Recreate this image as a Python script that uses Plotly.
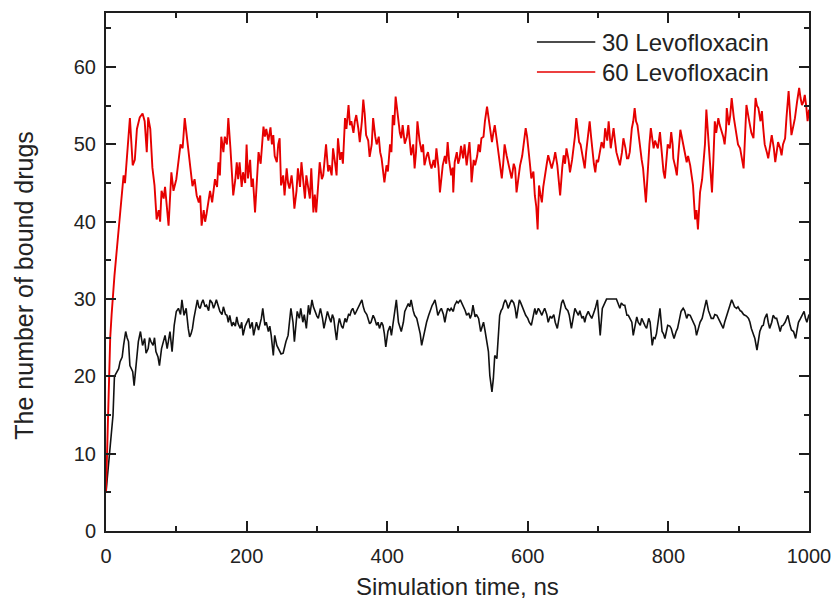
import plotly.graph_objects as go

# Number of bound Levofloxacin molecules over the MD trajectory (ns)
low_time = [0, 1, 2, 4, 6, 8, 10, 12, 15, 18, 20, 23, 25, 28, 30, 32, 34, 36, 38, 40, 43, 46, 49, 52, 55, 57, 60, 62, 64, 67, 69, 71, 74, 76, 79, 82, 84, 87, 89, 91, 94, 97,
            100, 103, 106, 108, 111, 114, 117, 119, 121, 123, 125, 127, 130, 132, 134, 136, 138, 141, 143, 146, 148, 151, 153, 155, 157, 160, 162, 165, 167, 170, 172, 174, 176, 179, 181, 184, 186, 188, 191, 193, 195, 198,
            200, 203, 205, 208, 210, 212, 214, 217, 219, 221, 223, 226, 228, 231, 233, 235, 238, 240, 243, 245, 247, 249, 252, 254, 256, 259, 261, 263, 266, 268, 270, 272, 275, 277, 280, 282, 285, 288, 290, 293, 295, 297,
            300, 302, 305, 308, 310, 313, 315, 318, 320, 322, 324, 326, 328, 330, 332, 335, 337, 340, 342, 345, 347, 349, 351, 354, 356, 359, 361, 364, 366, 368, 371, 373, 375, 377, 380, 382, 385, 387, 389, 392, 394, 396, 398,
            401, 404, 406, 408, 410, 413, 416, 418, 420, 423, 425, 428, 430, 432, 434, 437, 439, 442, 444, 447, 449, 451, 453, 456, 459, 461, 464, 466, 468, 470, 472, 475, 477, 480, 482, 484, 486, 489, 491, 494, 496, 499,
            501, 504, 506, 508, 511, 513, 516, 518, 520, 522, 525, 527, 530, 533, 535, 537, 539, 541, 544, 546, 548, 549, 551, 553, 556, 558, 560, 562, 564, 566, 568, 570, 572, 575, 577, 580, 582, 584, 586, 588, 590, 593, 595, 597,
            600, 602, 605, 607, 610, 612, 615, 617, 620, 622, 624, 627, 629, 632, 634, 637, 639, 642, 644, 646, 648, 650, 652, 654, 657, 659, 662, 664, 667, 669, 672, 674, 677, 679, 681, 683, 686, 688, 691, 693, 696, 699,
            701, 703, 706, 709, 712, 726, 728, 731, 733, 736, 738, 741, 743, 745, 748, 750, 753, 755, 757, 760, 762, 764, 767, 769, 772, 774, 777, 779, 781, 783, 785, 788, 791, 793, 795, 797, 799,
            802, 804, 806, 808, 811, 813, 816, 818, 821, 823, 826, 828, 831, 833, 836, 838, 840, 843, 845, 848, 850, 852, 854, 857, 859, 861, 864, 866, 869, 871, 873, 876, 878, 880, 883, 886, 888, 890, 892, 894, 897, 899,
            902, 904, 907, 909, 911, 914, 916, 918, 921, 923, 926, 928, 930, 933, 935, 937, 940, 942, 944, 947, 949, 952, 954, 957, 959, 961, 963, 966, 968, 970, 973, 975, 978, 981, 983, 985, 988, 990, 993, 995, 997, 1000]
low_bound = [5, 6, 8, 10, 12, 13, 15, 20, 20.6, 21, 21.9, 22.5, 24, 25.8, 25, 24.5, 21.4, 21, 20.6, 18.8, 21.9, 24.5, 25.8, 24, 24.9, 23, 23.6, 25, 24.5, 24, 25, 23.2, 22.5, 21.4, 23.6, 24.5, 25.3, 23.6, 24.5, 25.8, 23.2, 26.6,
             28.4, 28.8, 28, 29.9, 27.9, 28.8, 26.2, 25.1, 25.5, 26.2, 27.5, 28.4, 29.9, 29, 28.8, 29.5, 29.9, 29, 29.2, 28.5, 29.9, 29.5, 28.8, 29.3, 29.9, 29, 28.4, 28, 29, 28, 27.9, 27, 27.9, 26.5, 27, 26.5, 27.7, 26.8, 26.2, 27, 25.3, 26.5,
             27, 27.5, 26.2, 27, 25.3, 26, 27, 26, 26.6, 27.5, 28.8, 26.6, 27, 25.8, 26.5, 25.3, 22.7, 25.3, 24, 23.6, 23.2, 22.9, 23, 24, 24.5, 25.3, 27, 28.8, 27, 24.5, 26.5, 28.4, 27.5, 28.8, 27, 28, 26.2, 29.2, 28, 29.9, 29, 28.4,
             27.8, 27.5, 28.8, 27.5, 26.2, 27.5, 28.4, 27.5, 27, 28, 27.5, 26, 24.7, 26.5, 27.5, 26.5, 26.2, 27.5, 27, 28, 27.9, 28.5, 28.8, 28, 28.4, 28.8, 29.4, 29.9, 29, 28.4, 28, 27.5, 26.8, 27, 27.9, 27.5, 26.6, 27, 26.2, 27, 26.6, 25.5, 23.8,
             25.8, 26.5, 25.3, 26.5, 27.5, 29.9, 27, 26.5, 25.8, 27, 28.4, 29, 29.4, 29, 29.9, 28.5, 27.9, 27.5, 26.6, 25.5, 24, 25, 25.8, 27, 27.9, 28.5, 29.2, 29.5, 29.9, 29, 27.9, 28.5, 28.8, 28, 27, 28, 28.8, 28.5, 28.8, 28.4, 29.2, 29.7,
             29.5, 29.9, 29.5, 29.2, 28.5, 27.9, 28.2, 27.5, 28, 29.2, 27.7, 28, 27.5, 25.8, 26.5, 27, 26, 24.9, 23.2, 20.1, 18.5, 18, 19.7, 22.7, 22.3, 24.9, 27.9, 28.5, 28.8, 29.5, 29.9, 29.5, 28.8, 29.5, 29.9, 29.5, 28.8, 27.5, 28.8, 29.9, 29.5, 28.8, 28.5, 27.9,
             27.5, 27, 26.6, 27.5, 28.8, 28, 28.8, 28.5, 27.9, 28.4, 28.8, 28, 27, 27.8, 27.5, 28, 27, 26.2, 27.5, 28.4, 29.5, 29.9, 29.2, 28.8, 28.5, 27.9, 26.2, 27.5, 28.8, 28.4, 27.9, 28.5, 27.5, 27.8, 27, 27.8, 28.4, 28, 27.5, 28, 28.8, 29.9,
             28, 25.3, 28.8, 29.5, 30, 30, 29.5, 28.8, 29.5, 29.2, 29.2, 27.9, 27.9, 27.5, 27, 25.3, 26.5, 27.7, 27, 26.6, 27.5, 27, 26.5, 26.2, 27.5, 27, 24, 25, 24.9, 25.5, 26.6, 28.8, 25.8, 25.5, 24.9, 26, 26.6,
             26.5, 26.2, 25.5, 24.9, 25.8, 26.2, 27.5, 28.4, 28.8, 28.5, 27.5, 28, 27.9, 27.5, 27, 26.5, 25.3, 26.5, 27, 27.5, 28.4, 29.2, 29.9, 28.5, 27.9, 27.5, 27.5, 28, 27.9, 27.5, 27, 26.5, 26.2, 27, 27.9, 28.8, 29.5, 29.9, 29.5, 29, 28.8, 29,
             28.5, 28.4, 28, 27.9, 27.8, 27.5, 27, 26.2, 25.5, 24.9, 23.4, 24.5, 25.8, 26.5, 26.6, 27.5, 28.1, 27, 26.2, 27, 27.9, 27.5, 27.5, 26.5, 25.8, 26.5, 26.6, 27, 27.5, 27.9, 26.6, 26, 25.8, 24.9, 26, 27, 27.5, 27.9, 28.4, 27.5, 27, 28]

high_time = [0, 2, 4, 6, 8, 10, 12, 14, 17, 20, 22, 25, 27, 30, 34, 38, 41, 44, 48, 52, 55, 58, 60, 63, 66, 69, 72, 75, 77, 79, 82, 84, 87, 89, 93, 96,
             100, 103, 106, 109, 112, 115, 117, 120, 123, 126, 129, 132, 134, 136, 139, 141, 143, 146, 148, 151, 155, 158, 160, 162, 164, 167, 169, 172, 174, 177, 179, 181, 184, 186, 188, 190, 193, 195, 198,
             200, 202, 205, 207, 209, 212, 215, 217, 220, 222, 224, 226, 228, 231, 234, 236, 238, 240, 243, 245, 247, 249, 252, 254, 257, 259, 261, 264, 266, 268, 271, 273, 276, 278, 281, 283, 285, 287, 290, 292, 295, 297, 299,
             302, 304, 307, 309, 311, 313, 316, 318, 321, 323, 326, 328, 330, 333, 335, 337, 340, 342, 345, 347, 349, 352, 354, 356, 359, 361, 364, 366, 368, 370, 373, 375, 378, 380, 383, 385, 388, 390, 392, 394, 396, 399,
             401, 404, 406, 408, 410, 412, 415, 418, 420, 422, 425, 428, 430, 432, 434, 437, 439, 441, 443, 446, 449, 451, 453, 456, 458, 461, 463, 466, 468, 470, 473, 475, 477, 479, 482, 484, 486, 488, 491, 493, 494, 496, 499,
             501, 503, 505, 508, 510, 513, 515, 517, 519, 520, 523, 525, 528, 530, 532, 534, 537, 539, 542, 544, 546, 549, 551, 553, 556, 558, 561, 563, 565, 567, 570, 572, 575, 577, 580, 582, 584, 587, 589, 592, 594, 597, 599,
             601, 603, 605, 608, 610, 612, 614, 616, 618, 620, 622, 624, 627, 629, 632, 634, 637, 639, 642, 644, 646, 649, 651, 653, 655, 658, 660, 663, 665, 667, 669, 671, 673, 675, 677, 679, 681, 683, 685, 688, 690, 692, 694, 696, 698,
             700, 703, 705, 708, 710, 713, 715, 718, 720, 722, 724, 726, 729, 731, 734, 736, 739, 741, 743, 745, 748, 750, 752, 754, 756, 758, 760, 762, 764, 766, 768, 770, 771, 773, 775, 777, 779, 781, 783, 785, 788, 790, 791, 793, 795, 797, 799,
             802, 804, 806, 807, 810, 812, 814, 817, 819, 821, 823, 826, 828, 831, 833, 835, 838, 840, 842, 844, 845, 848, 850, 852, 854, 857, 859, 861, 862, 864, 866, 868, 871, 873, 876, 878, 880, 882, 883, 886, 888, 890, 893, 895, 897, 899,
             902, 904, 907, 909, 911, 914, 916, 918, 921, 922, 924, 926, 928, 931, 933, 935, 937, 940, 942, 945, 947, 950, 952, 954, 956, 959, 961, 963, 966, 968, 971, 973, 975, 978, 980, 983, 986, 988, 990, 992, 994, 996, 998, 1000]
high_bound = [5, 12, 20, 25, 28, 31, 33, 35, 38, 41, 43, 46, 45, 49, 53.4, 47.3, 48, 52, 53.5, 54, 53, 49, 53.5, 52, 47, 44.7, 40.3, 41.5, 40, 44, 43, 44.5, 41.5, 39.5, 46.4, 44,
              45.5, 47.5, 50, 49.5, 53.4, 51, 49, 47, 44.6, 45.5, 43.4, 42.5, 43.4, 39.5, 41.5, 40, 41, 43, 44, 42.5, 45.5, 44.5, 47.7, 46, 51, 49, 51, 50, 53.4, 49.5, 46.9, 43.4, 45.5, 47.7, 45.5, 47.7, 44.5, 46.4, 45,
              50, 45.6, 48, 44.5, 45.6, 41.2, 46, 49, 47.5, 50, 52.3, 51, 52, 50.5, 52.2, 50, 51.2, 48.5, 47.7, 50, 50.8, 44.7, 46, 43.4, 46.9, 45, 44.3, 46, 44.3, 41.7, 44, 46.9, 44.5, 47.7, 45, 43, 46, 44.7, 43, 46.9, 41.2, 43.5, 41.2,
              45, 47.7, 45.5, 46, 48, 50, 46.5, 47.3, 46, 49.5, 47.5, 46, 50.8, 48, 49, 47.5, 53.4, 52, 55.1, 52.5, 53, 51.5, 53, 53.8, 52, 50.3, 53, 55.8, 54, 51.2, 50.5, 48.4, 50, 53.4, 51, 50, 51, 49, 48.2, 46.5, 45.1, 47.3,
              46.5, 50, 49, 53.8, 52.5, 56.2, 53.4, 51.5, 50.8, 52.5, 50.1, 51, 52.5, 50.5, 48.6, 50, 46.9, 49, 53, 50.5, 49, 50, 47.3, 48.5, 49, 47.5, 46.9, 48, 47, 49.5, 47, 43.8, 46, 47.3, 48.5, 47.5, 50.3, 48, 46, 47, 43.8, 47.7, 49,
              47.5, 48.2, 49.8, 48.2, 50, 47.3, 48.5, 50.3, 47.5, 45.1, 48, 47.3, 48.5, 50, 49, 50.8, 51, 53, 54.9, 53.5, 52.5, 50.3, 51.5, 52.5, 50.5, 49, 47.5, 45.6, 47.5, 50, 48.5, 47.7, 46.5, 45.6, 47.5, 46.9, 43.8, 46, 47.3, 48.5, 50.3, 52.1, 51,
              49.5, 47.5, 45.6, 46.5, 43.4, 42, 39, 44.7, 43.5, 42.5, 44.5, 46, 47.5, 48.6, 47.5, 46.9, 48, 49, 47.3, 45.5, 43.4, 47, 48.6, 47.5, 49.5, 48, 46.4, 48, 49.5, 51, 53.4, 51.5, 50.3, 50, 49, 48, 46.9, 49, 50.8, 53, 51, 49, 47.5, 46.4, 48,
              47.7, 49, 50.3, 49.5, 52.1, 50.5, 53, 49.5, 51, 52.1, 50.5, 49, 48, 47.3, 49, 50.8, 49.5, 48.2, 48.2, 49, 52.1, 53, 54.7, 53, 52.5, 51, 49, 48, 46.9, 45, 42.5, 45.5, 47.3, 50, 52.1, 50.5, 49.5, 50.5, 50, 49.5, 51.6, 49.5, 47.7, 46.5, 45.6, 48, 50,
              49.5, 51.6, 50, 48.2, 47, 46, 48.5, 51.9, 51, 50, 49, 47.7, 48.5, 47.3, 46, 44.7, 40.3, 41.5, 39, 41.5, 43.8, 45.5, 47.7, 50, 54.5, 50, 47.3, 45.5, 43.8, 48, 53, 51.5, 53.4, 52.5, 51.6, 51, 50, 52, 54.7, 52.5, 53.8, 56, 53.5, 52.1, 51, 50,
              49.5, 48.6, 46.9, 51, 55.1, 53.5, 52.5, 51.5, 50.8, 53, 56, 55, 54.7, 53, 54.3, 52, 50, 49, 48.2, 50, 51.2, 49.5, 47.7, 49, 50.3, 49.5, 48.6, 50, 50.8, 53.5, 56.9, 54, 51.2, 52.5, 53.4, 55.5, 57.3, 56, 55.1, 55.5, 56.4, 55, 53, 54.5]

series_names = ["30 Levofloxacin", "60 Levofloxacin"]
series_colors = ["#111111", "#e60000"]

x_ticks = [0, 200, 400, 600, 800, 1000]
y_ticks = [0, 10, 20, 30, 40, 50, 60]

FONT = "Liberation Sans, Arial, sans-serif"
AXIS_COLOR = "#1e1e1e"

fig = go.Figure()
fig.add_trace(go.Scatter(x=low_time, y=low_bound, mode="lines", name=series_names[0],
                         line=dict(color=series_colors[0], width=1.6)))
fig.add_trace(go.Scatter(x=high_time, y=high_bound, mode="lines", name=series_names[1],
                         line=dict(color=series_colors[1], width=1.9)))

axis_common = dict(
    showline=True, linecolor=AXIS_COLOR, linewidth=2, mirror="ticks",
    ticks="inside", ticklen=10, tickwidth=1.6, tickcolor=AXIS_COLOR,
    showgrid=False, zeroline=False, automargin=False,
    tickfont=dict(family=FONT, size=20, color="#222222"),
)

fig.update_xaxes(range=[0, 1000], tickvals=x_ticks, ticklabelstandoff=6,
                 minor=dict(dtick=100, tick0=0, ticks="inside", ticklen=5, tickwidth=1.6,
                            tickcolor=AXIS_COLOR, showgrid=False),
                 **axis_common)
fig.update_yaxes(range=[0, 67], tickvals=y_ticks, ticklabelstandoff=4,
                 minor=dict(dtick=5, tick0=0, ticks="inside", ticklen=5, tickwidth=1.6,
                            tickcolor=AXIS_COLOR, showgrid=False),
                 **axis_common)

# Axis titles
fig.add_annotation(text="Simulation time, ns", xref="paper", yref="paper",
                   x=0.5, y=-0.108, xanchor="center", yanchor="middle", showarrow=False,
                   font=dict(family=FONT, size=24, color="#222222"))
fig.add_annotation(text="The number of bound drugs", xref="paper", yref="paper",
                   x=-0.117, y=0.475, xanchor="center", yanchor="middle", showarrow=False,
                   textangle=-90, font=dict(family=FONT, size=25, color="#222222"))

# Legend drawn inside the upper-right corner
legend_rows = [0.944, 0.886]
for name, color, yrow in zip(series_names, series_colors, legend_rows):
    fig.add_shape(type="line", xref="paper", yref="paper",
                  x0=0.613, x1=0.696, y0=yrow, y1=yrow,
                  line=dict(color=color, width=1.6))
    fig.add_annotation(text=name, xref="paper", yref="paper", x=0.703, y=yrow,
                       xanchor="left", yanchor="middle", showarrow=False,
                       font=dict(family=FONT, size=24, color="#222222"))

fig.update_layout(
    width=833, height=602,
    margin=dict(l=106, r=24, t=13, b=71),
    plot_bgcolor="white", paper_bgcolor="white",
    showlegend=False,
)

fig.write_html("out.html")
